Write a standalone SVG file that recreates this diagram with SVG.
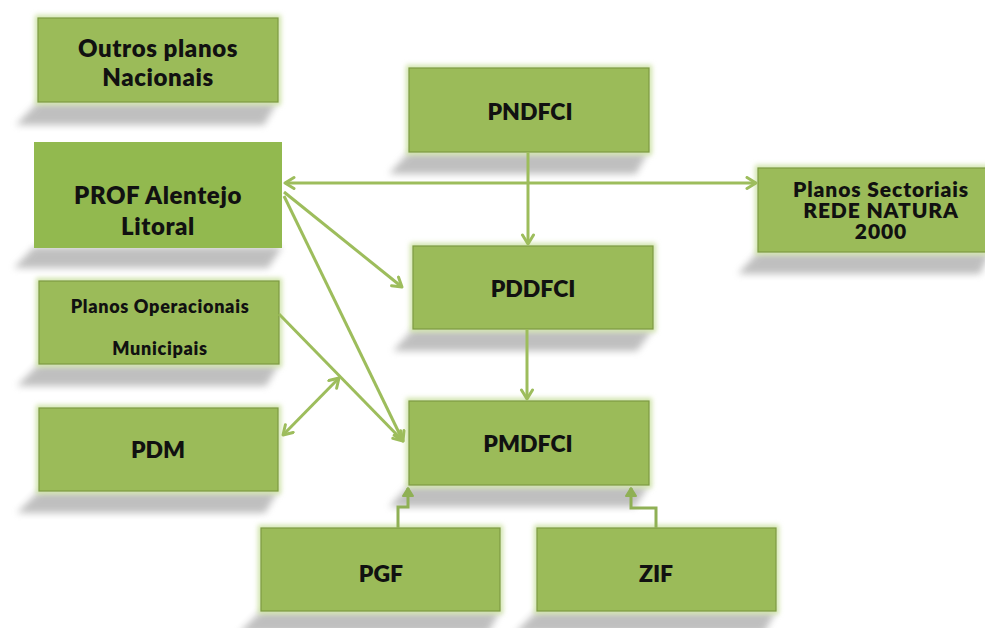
<svg xmlns="http://www.w3.org/2000/svg" width="985" height="628" viewBox="0 0 985 628">
<defs>
<filter id="blur" x="-20%" y="-50%" width="140%" height="200%"><feGaussianBlur stdDeviation="3.5"/></filter>
<filter id="glow" x="-10%" y="-20%" width="120%" height="140%"><feGaussianBlur stdDeviation="2.5"/></filter>
<marker id="arr" markerUnits="userSpaceOnUse" markerWidth="16" markerHeight="16" refX="11" refY="7" orient="auto-start-reverse" viewBox="0 0 16 16">
<path d="M2,1.5 L11,7 L2,12.5" fill="none" stroke="#9dbd5c" stroke-width="3" stroke-linecap="round" stroke-linejoin="round"/>
</marker>
<marker id="arr2" markerUnits="userSpaceOnUse" markerWidth="16" markerHeight="16" refX="10" refY="7" orient="auto" viewBox="0 0 16 16">
<path d="M2,2 L10,7 L2,12 Z" fill="#8fb055" stroke="#8fb055" stroke-width="2" stroke-linejoin="round"/>
</marker>
</defs>
<style>
.sh{fill:#8c8c8c;opacity:.55;filter:url(#blur)}
.gl{fill:none;stroke:#cfe3a8;stroke-width:6;filter:url(#glow)}
.bx{fill:#9bbb59;stroke:#7d9a43;stroke-width:1.2}
.t{font-family:Lato,"Open Sans","Liberation Sans",sans-serif;font-weight:800;fill:#111;text-anchor:middle}
.m{font-size:24px;letter-spacing:0.6px}
.k{font-size:23px}
.c{fill:none;stroke:#9dbd5c;stroke-width:3}
.e{fill:none;stroke:#8fb055;stroke-width:3}
</style>
<rect width="985" height="628" fill="#ffffff"/>

<g id="n_outros">
<polygon class="sh" points="38,102 277,102 264,125 16,125"/>
<rect class="gl" x="38" y="18" width="240" height="84"/>
<rect class="bx" x="38" y="18" width="240" height="84"/>
<text class="t m" x="158" y="57">Outros planos</text>
<text class="t m" x="158" y="86">Nacionais</text>
</g>

<g id="n_prof">
<polygon class="sh" points="34,247 282,247 268,268 14,268"/>
<rect x="34" y="142" width="248" height="106" fill="#92b94f"/>
<text class="t m" x="158" y="204">PROF Alentejo</text>
<text class="t m" x="158" y="235">Litoral</text>
</g>

<g id="n_pndfci">
<polygon class="sh" points="409,152 648,152 636,174 389,174"/>
<rect class="gl" x="409" y="68" width="240" height="84"/>
<rect class="bx" x="409" y="68" width="240" height="84"/>
<text class="t k" x="530" y="120">PNDFCI</text>
</g>

<g id="n_setoriais">
<polygon class="sh" points="758,252 990,252 980,274 738,274"/>
<rect class="gl" x="758" y="168" width="232" height="84"/>
<rect class="bx" x="758" y="168" width="232" height="84"/>
<text class="t" x="881" y="197" font-size="21" letter-spacing="0.9">Planos Sectoriais</text>
<text class="t" x="881" y="218" font-size="21" letter-spacing="0.9">REDE NATURA</text>
<text class="t" x="881" y="239" font-size="21" letter-spacing="0.9">2000</text>
</g>

<g id="n_pddfci">
<polygon class="sh" points="413,329 653,329 637,351 393,351"/>
<rect class="gl" x="413" y="246" width="240" height="83"/>
<rect class="bx" x="413" y="246" width="240" height="83"/>
<text class="t k" x="533" y="297">PDDFCI</text>
</g>

<g id="n_pmdfci">
<polygon class="sh" points="409,485 649,485 635,507 389,507"/>
<rect class="gl" x="409" y="401" width="240" height="84"/>
<rect class="bx" x="409" y="401" width="240" height="84"/>
<text class="t k" x="528" y="452">PMDFCI</text>
</g>

<g id="n_pom">
<polygon class="sh" points="39,364 279,364 266,386 17,386"/>
<rect class="gl" x="39" y="281" width="240" height="83"/>
<rect class="bx" x="39" y="281" width="240" height="83"/>
<text class="t" x="160" y="313" font-size="18" letter-spacing="0.7">Planos Operacionais</text>
<text class="t" x="160" y="355" font-size="18" letter-spacing="0.7">Municipais</text>
</g>

<g id="n_pdm">
<polygon class="sh" points="39,491 278,491 265,513 17,513"/>
<rect class="gl" x="39" y="408" width="239" height="83"/>
<rect class="bx" x="39" y="408" width="239" height="83"/>
<text class="t k" x="158" y="458">PDM</text>
</g>

<g id="n_pgf">
<polygon class="sh" points="261,611 500,611 488,633 239,633"/>
<rect class="gl" x="261" y="528" width="239" height="83"/>
<rect class="bx" x="261" y="528" width="239" height="83"/>
<text class="t k" x="381" y="582">PGF</text>
</g>

<g id="n_zif">
<polygon class="sh" points="537,611 776,611 764,633 515,633"/>
<rect class="gl" x="537" y="528" width="239" height="83"/>
<rect class="bx" x="537" y="528" width="239" height="83"/>
<text class="t k" x="656" y="582">ZIF</text>
</g>

<g id="connectors">
<line class="c" x1="285" y1="183" x2="756" y2="183" marker-start="url(#arr)" marker-end="url(#arr)"/>
<line class="c" x1="528" y1="152" x2="528" y2="244" marker-end="url(#arr)"/>
<line class="c" x1="527" y1="329" x2="527" y2="399" marker-end="url(#arr)"/>
<line class="c" x1="284" y1="192" x2="402" y2="287" marker-end="url(#arr)"/>
<line class="c" x1="284" y1="196" x2="403" y2="441" marker-end="url(#arr)"/>
<line class="c" x1="279" y1="314" x2="403" y2="441" marker-end="url(#arr)"/>
<line class="c" x1="283" y1="435" x2="339" y2="378" marker-start="url(#arr)" marker-end="url(#arr)"/>
<path class="e" d="M398,528 V507 H408 V488" marker-end="url(#arr2)"/>
<path class="e" d="M656,528 V508 H631 V488" marker-end="url(#arr2)"/>
</g>
</svg>
